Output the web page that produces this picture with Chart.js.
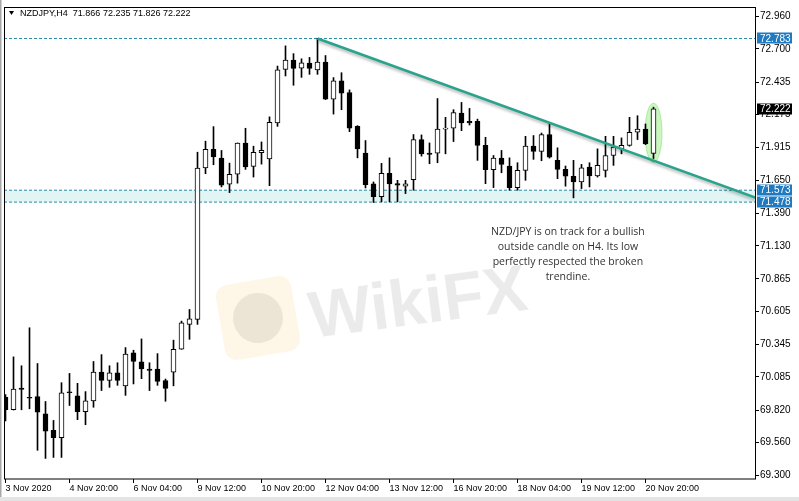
<!DOCTYPE html>
<html>
<head>
<meta charset="utf-8">
<title>NZDJPY,H4</title>
<script src="https://cdn.jsdelivr.net/npm/chart.js@4.4.0/dist/chart.umd.min.js"></script>
<style>
  html, body { margin: 0; padding: 0; background: #fff; }
  #wrap { width: 799px; height: 501px; }
</style>
</head>
<body>
<div id="wrap"><canvas id="chart" width="799" height="501"></canvas></div>
<script>
const symbol = 'NZDJPY,H4';

// H4 candles, 3 Nov 2020 -> 23 Nov 2020
const opens = [
  69.922, 69.822, 69.996, 69.922, 69.927, 69.790, 69.658, 69.600, 69.965, 69.933,
  69.806, 69.893, 70.123, 70.056, 70.117, 70.012, 70.276, 70.205, 70.147, 70.147,
  70.054, 70.121, 70.305, 70.503, 70.543, 71.750, 71.898, 71.829, 71.621, 71.700,
  71.948, 71.763, 71.872, 71.823, 72.109, 72.537, 72.611, 72.546, 72.587, 72.532,
  72.595, 72.299, 72.445, 72.352, 72.082, 71.869, 71.623, 71.522, 71.708, 71.625,
  71.605, 71.657, 71.977, 71.869, 71.869, 72.059, 72.067, 72.188, 72.122, 72.122,
  71.930, 71.736, 71.829, 71.766, 71.594, 71.731, 71.924, 71.882, 72.017, 71.811,
  71.739, 71.684, 71.639, 71.758, 71.686, 71.731, 71.850, 71.903, 71.930, 72.035,
  72.061, 71.866
];
const highs = [
  69.943, 70.244, 70.173, 70.476, 70.191, 69.888, 69.737, 70.038, 70.112, 70.033,
  69.967, 70.207, 70.262, 70.173, 70.197, 70.318, 70.297, 70.387, 70.197, 70.270,
  70.067, 70.377, 70.529, 70.622, 71.876, 71.964, 72.080, 71.890, 71.789, 71.950,
  72.067, 71.924, 71.958, 72.158, 72.563, 72.724, 72.662, 72.621, 72.632, 72.783,
  72.647, 72.471, 72.510, 72.373, 72.088, 71.969, 71.639, 71.787, 71.831, 71.652,
  71.652, 72.017, 72.014, 71.950, 72.304, 72.154, 72.215, 72.273, 72.225, 72.140,
  71.995, 71.850, 71.890, 71.831, 71.792, 72.003, 72.009, 72.029, 72.109, 71.911,
  71.766, 71.811, 71.779, 71.792, 71.903, 72.003, 72.003, 71.990, 72.154, 72.167,
  72.101, 72.235
];
const lows = [
  69.733, 69.820, 69.822, 69.830, 69.499, 69.434, 69.442, 69.442, 69.856, 69.743,
  69.703, 69.842, 69.975, 70.001, 70.017, 69.937, 70.028, 70.070, 69.975, 70.017,
  69.890, 70.013, 70.304, 70.384, 70.503, 71.705, 71.776, 71.599, 71.554, 71.629,
  71.739, 71.678, 71.781, 71.609, 72.082, 72.484, 72.410, 72.473, 72.497, 72.497,
  72.296, 72.180, 72.215, 72.040, 71.831, 71.591, 71.475, 71.480, 71.480, 71.480,
  71.546, 71.573, 71.845, 71.784, 71.792, 71.863, 71.961, 72.048, 72.093, 71.811,
  71.625, 71.594, 71.712, 71.573, 71.573, 71.652, 71.819, 71.808, 71.829, 71.665,
  71.605, 71.512, 71.586, 71.599, 71.678, 71.678, 71.771, 71.863, 71.924, 71.977,
  71.937, 71.826
];
const closes = [
  69.822, 69.988, 69.985, 69.914, 69.803, 69.652, 69.600, 69.957, 69.958, 69.806,
  69.893, 70.123, 70.056, 70.117, 70.056, 70.266, 70.207, 70.147, 70.136, 70.048,
  69.993, 70.305, 70.516, 70.548, 71.750, 71.898, 71.839, 71.613, 71.700, 71.948,
  71.758, 71.876, 71.892, 72.114, 72.532, 72.611, 72.544, 72.588, 72.544, 72.595,
  72.299, 72.445, 72.346, 72.067, 71.903, 71.617, 71.522, 71.708, 71.623, 71.613,
  71.623, 71.977, 71.863, 71.858, 72.061, 72.069, 72.193, 72.109, 72.109, 71.930,
  71.736, 71.829, 71.779, 71.594, 71.731, 71.924, 71.882, 72.017, 71.837, 71.739,
  71.684, 71.639, 71.752, 71.686, 71.771, 71.850, 71.916, 71.930, 72.035, 72.061,
  71.942, 72.222
];

const xTickBars = [0, 8, 16, 24, 32, 40, 48, 56, 64, 72, 80];
const xTickLabels = ['3 Nov 2020', '4 Nov 20:00', '6 Nov 04:00', '9 Nov 12:00', '10 Nov 20:00',
  '12 Nov 04:00', '13 Nov 12:00', '16 Nov 20:00', '18 Nov 04:00', '19 Nov 12:00', '20 Nov 20:00'];
const yTicks = [72.960, 72.700, 72.435, 72.175, 71.915, 71.650, 71.390, 71.130,
  70.865, 70.605, 70.345, 70.085, 69.820, 69.560, 69.300];

const levels = [72.783, 71.573, 71.478];      // dashed horizontal lines
const trendBars = [39, 93.8125];
const trendPrices = [72.783, 71.512];
const highlightBar = 81;
const noteLines = ['NZD/JPY is on track for a bullish', 'outside candle on H4. Its low',
  'perfectly respected the broken', 'trendine.'];
const notePos = [70.3, 71.243];               // bar, price of first line

const X_MIN = -0.1875, X_MAX = 93.8125;
const Y_MIN = 69.270, Y_MAX = 73.034;

const levelColor = '#2a8aa3';
const boxBlue = '#1f7bc1';

const bodyColors = opens.map((o, i) => closes[i] >= o ? '#ffffff' : '#000000');

function levelLine(v, extra) {
  return Object.assign({
    type: 'line',
    data: [{ x: X_MIN, y: v }, { x: X_MAX, y: v }],
    borderColor: levelColor,
    borderWidth: 1,
    borderDash: [3, 2],
    pointRadius: 0,
    fill: false,
    order: 5
  }, extra || {});
}

const decorations = {
  id: 'decorations',
  beforeDraw(chart) {
    const ctx = chart.ctx;
    ctx.save();
    ctx.fillStyle = '#fff';
    ctx.fillRect(0, 0, chart.width, chart.height);
    ctx.fillStyle = '#a8a8a8';
    ctx.fillRect(0, 0, 1.5, chart.height);
    ctx.fillStyle = '#e4e4e4';
    ctx.fillRect(0, 497, chart.width, 4);
    ctx.restore();
  },
  beforeDatasetsDraw(chart) {
    const ctx = chart.ctx;
    const xs = chart.scales.x, ys = chart.scales.y;
    ctx.save();
    // watermark
    ctx.translate(258, 318);
    ctx.rotate(-0.17);
    ctx.fillStyle = 'rgba(250, 215, 140, 0.22)';
    ctx.beginPath();
    ctx.roundRect(-38, -38, 76, 76, 12);
    ctx.fill();
    ctx.fillStyle = 'rgba(0, 0, 0, 0.07)';
    ctx.beginPath();
    ctx.arc(0, 0, 25, 0, Math.PI * 2);
    ctx.fill();
    ctx.restore();
    ctx.save();
    ctx.translate(312, 338);
    ctx.rotate(-0.13);
    ctx.font = 'bold 66px "Liberation Sans"';
    ctx.fillStyle = 'rgba(0, 0, 0, 0.08)';
    ctx.fillText('WikiFX', 0, 0);
    ctx.restore();
    // highlight around last candle
    const cx = xs.getPixelForValue(highlightBar);
    const top = ys.getPixelForValue(highs[highlightBar]) - 4;
    const bot = ys.getPixelForValue(lows[highlightBar]) + 4;
    ctx.save();
    ctx.beginPath();
    ctx.ellipse(cx, (top + bot) / 2, 8.5, (bot - top) / 2, 0, 0, Math.PI * 2);
    ctx.fillStyle = 'rgba(160, 238, 140, 0.55)';
    ctx.fill();
    ctx.strokeStyle = 'rgba(120, 220, 100, 0.5)';
    ctx.lineWidth = 1;
    ctx.stroke();
    ctx.restore();
  },
  beforeDatasetDraw(chart, args) {
    if (args.meta.label === 'trend') {
      const ctx = chart.ctx;
      ctx.save();
      ctx.shadowColor = 'rgba(0, 0, 0, 0.3)';
      ctx.shadowBlur = 3;
      ctx.shadowOffsetY = 2;
    }
  },
  afterDatasetDraw(chart, args) {
    if (args.meta.label === 'trend') chart.ctx.restore();
  },
  afterDraw(chart) {
    const ctx = chart.ctx;
    const a = chart.chartArea;
    const xs = chart.scales.x, ys = chart.scales.y;
    ctx.save();
    // frame
    ctx.strokeStyle = '#000';
    ctx.lineWidth = 1;
    ctx.strokeRect(a.left + 0.5, a.top + 0.5, a.right - a.left - 1, a.bottom - a.top - 0.5);
    // price boxes on the axis
    ctx.font = '10px "Liberation Sans"';
    ctx.textBaseline = 'middle';
    const boxes = levels.map(v => [v, boxBlue]).concat([[closes[closes.length - 1], '#000']]);
    boxes.forEach(([v, col]) => {
      const y = ys.getPixelForValue(v);
      ctx.fillStyle = col;
      ctx.fillRect(a.right + 1, Math.round(y) - 5.5, 35, 11);
      ctx.fillStyle = '#fff';
      ctx.fillText(v.toFixed(3), a.right + 4, y + 0.5);
    });
    // title
    const last = closes.length - 1;
    ctx.fillStyle = '#000';
    ctx.beginPath();
    ctx.moveTo(9, 11);
    ctx.lineTo(14, 11);
    ctx.lineTo(11.5, 15);
    ctx.closePath();
    ctx.fill();
    ctx.font = '9px "Liberation Sans"';
    ctx.fillText(symbol + '  ' + [opens[last], highs[last], lows[last], closes[last]]
      .map(v => v.toFixed(3)).join(' '), 20, 13.5);
    // comment
    ctx.font = '10.5px "Open Sans"';
    ctx.fillStyle = '#333';
    ctx.textAlign = 'center';
    const nx = xs.getPixelForValue(notePos[0]);
    const ny = ys.getPixelForValue(notePos[1]);
    noteLines.forEach((t, i) => ctx.fillText(t, nx, ny + i * 15));
    ctx.restore();
  }
};

new Chart(document.getElementById('chart'), {
  type: 'bar',
  data: {
    datasets: [
      {
        label: 'bodies',
        data: opens.map((o, i) => ({ x: i, y: [o, closes[i]] })),
        backgroundColor: bodyColors,
        borderColor: '#000',
        borderWidth: 1,
        borderSkipped: false,
        barThickness: 5,
        grouped: false,
        order: 2
      },
      {
        label: 'wicks',
        data: lows.map((l, i) => ({ x: i, y: [l, highs[i]] })),
        backgroundColor: '#000',
        borderWidth: 0,
        barThickness: 1,
        grouped: false,
        order: 3
      },
      {
        type: 'line',
        label: 'trend',
        data: trendBars.map((b, i) => ({ x: b, y: trendPrices[i] })),
        borderColor: '#2aa38c',
        borderWidth: 2.5,
        pointRadius: 0,
        fill: false,
        order: 1
      },
      levelLine(levels[0]),
      levelLine(levels[1], { fill: '+1', backgroundColor: 'rgba(205, 238, 236, 0.6)' }),
      levelLine(levels[2])
    ]
  },
  options: {
    responsive: false,
    devicePixelRatio: 1,
    animation: false,
    layout: { padding: { left: 4, top: 4, right: 0, bottom: 0 } },
    plugins: {
      legend: { display: false },
      tooltip: { enabled: false },
      filler: { drawTime: 'beforeDatasetsDraw' }
    },
    scales: {
      x: {
        type: 'linear',
        min: X_MIN,
        max: X_MAX,
        offset: false,
        border: { display: false },
        grid: { drawOnChartArea: false, drawTicks: true, tickLength: 4, color: '#000', offset: false },
        afterBuildTicks(scale) { scale.ticks = xTickBars.map(v => ({ value: v })); },
        afterFit(scale) { scale.height = 22; },
        ticks: {
          autoSkip: false,
          maxRotation: 0,
          align: 'start',
          padding: 0,
          color: '#000',
          font: { family: '"Liberation Sans"', size: 9 },
          callback: v => xTickLabels[xTickBars.indexOf(v)]
        }
      },
      y: {
        type: 'linear',
        position: 'right',
        min: Y_MIN,
        max: Y_MAX,
        beginAtZero: false,
        border: { display: false },
        grid: { drawOnChartArea: false, drawTicks: true, tickLength: 3, color: '#000' },
        afterBuildTicks(scale) { scale.ticks = yTicks.map(v => ({ value: v })); },
        afterFit(scale) { scale.width = 43; },
        ticks: {
          autoSkip: false,
          padding: 1,
          color: '#000',
          font: { family: '"Liberation Sans"', size: 10 },
          callback: v => v.toFixed(3)
        }
      }
    }
  },
  plugins: [decorations]
});
</script>
</body>
</html>
